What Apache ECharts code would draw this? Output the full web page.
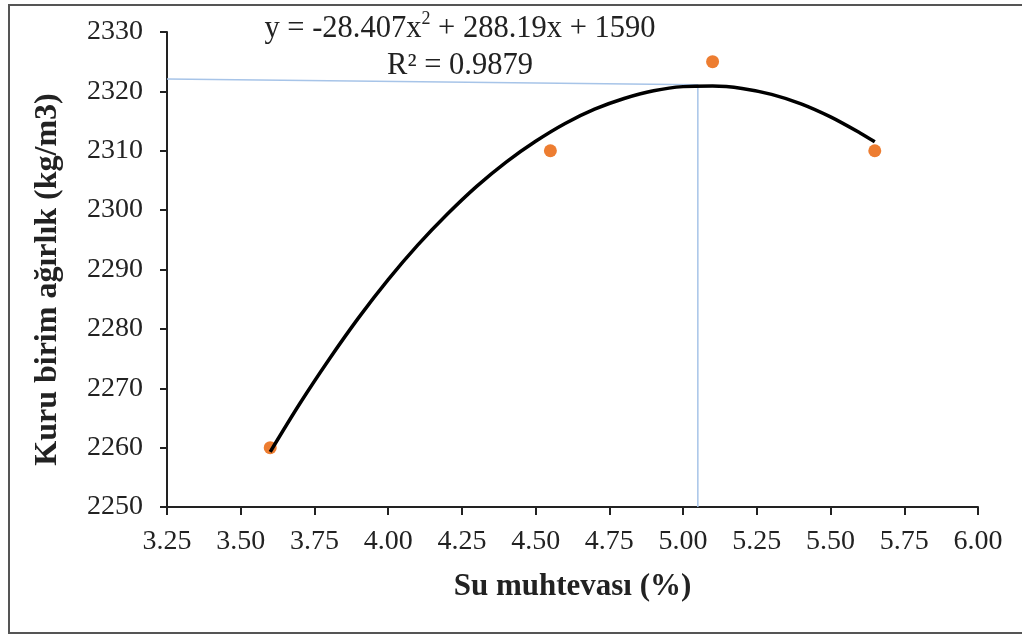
<!DOCTYPE html>
<html>
<head>
<meta charset="utf-8">
<script src="https://cdn.jsdelivr.net/npm/echarts@6/dist/echarts.min.js"></script>
<style>
html,body{margin:0;padding:0;background:#fff;}
#chart{width:1022px;height:635px;}
</style>
</head>
<body>
<div id="chart"></div>
<script>
// Measured points
var waterContent = [3.6, 4.55, 5.1, 5.65];
var dryDensity = [2260, 2310, 2325, 2310];
// Polynomial trendline
var trendX = [3.6, 3.7, 3.8, 3.9, 4.0, 4.1, 4.2, 4.3, 4.4, 4.5, 4.6, 4.7, 4.8, 4.9, 5.0, 5.1, 5.2, 5.3, 5.4, 5.5, 5.6, 5.65];
var trendY = [2259.3, 2267.4, 2274.9, 2281.9, 2288.3, 2294.1, 2299.3, 2304.0, 2308.1, 2311.6, 2314.6, 2317.0, 2318.8, 2320.1, 2320.8, 2320.9, 2320.5, 2319.5, 2317.9, 2315.7, 2313.0, 2311.5];
// Optimum guide lines (blue)
var guideX = [3.25, 5.05, 5.05];
var guideY = [2322.1, 2321.1, 2250];
// Labels
var xTitle = 'Su muhtevası (%)';
var yTitle = 'Kuru birim ağırlık (kg/m3)';
var eqLine1 = ['y = -28.407x', '2', ' + 288.19x + 1590'];
var eqLine2 = 'R² = 0.9879';

function pairs(xs, ys){ return xs.map(function(x,i){ return [x, ys[i]]; }); }

var serif = '"Liberation Serif", "DejaVu Serif", serif';
var chart = echarts.init(document.getElementById('chart'));
chart.setOption({
  animation: false,
  backgroundColor: '#fff',
  grid: {left: 167, right: 44, top: 32, bottom: 128},
  title: {
    text: '{a|' + eqLine1[0] + '}{s|' + eqLine1[1] + '}{a|' + eqLine1[2] + '}\n{a|' + eqLine2 + '}',
    left: 455, top: 5, textAlign: 'center',
    textStyle: {
      fontWeight: 'normal',
      rich: {
        a: {fontFamily: serif, fontSize: 30.5, fontWeight: 'normal', color: '#222', lineHeight: 37, align: 'center'},
        s: {fontFamily: serif, fontSize: 18, fontWeight: 'normal', color: '#222', verticalAlign: 'top', lineHeight: 37, padding: [0,0,12,0]}
      }
    }
  },
  xAxis: {
    type: 'value', min: 3.25, max: 6.0, interval: 0.25,
    name: xTitle, nameLocation: 'middle', nameGap: 64,
    nameTextStyle: {fontFamily: serif, fontSize: 31, fontWeight: 'bold', color: '#222'},
    axisLine: {show: true, lineStyle: {color: '#222', width: 2}},
    axisTick: {show: true, inside: false, length: 8, lineStyle: {color: '#222', width: 2}},
    axisLabel: {fontFamily: serif, fontSize: 28, color: '#222', margin: 21,
      formatter: function(v){ return v.toFixed(2); }},
    splitLine: {show: false}
  },
  yAxis: {
    type: 'value', min: 2250, max: 2330, interval: 10,
    name: yTitle, nameLocation: 'middle', nameGap: 103, nameRotate: 90,
    nameTextStyle: {fontFamily: serif, fontSize: 32, fontWeight: 'bold', color: '#222', padding: [0, 20, 0, 0]},
    axisLine: {show: true, lineStyle: {color: '#222', width: 2}},
    axisTick: {show: true, inside: false, length: 7, lineStyle: {color: '#222', width: 2}},
    axisLabel: {fontFamily: serif, fontSize: 28, color: '#222', margin: 24,
      formatter: function(v){ return String(v); }},
    splitLine: {show: false}
  },
  graphic: [{
    type: 'rect', shape: {x: 9, y: 5, width: 1030, height: 628},
    style: {fill: 'none', stroke: '#555', lineWidth: 2}, silent: true, z: 100
  }],
  series: [
    {
      type: 'line', data: pairs(guideX, guideY), symbol: 'none',
      lineStyle: {color: '#a7c4e8', width: 1.5}, z: 1
    },
    {
      type: 'line', data: pairs(trendX, trendY), symbol: 'none', smooth: 0.3,
      lineStyle: {color: '#000', width: 3.5}, z: 3
    },
    {
      type: 'scatter', data: pairs(waterContent, dryDensity), symbolSize: 13,
      itemStyle: {color: '#ED7D31', opacity: 1}, z: 2
    }
  ]
});
</script>
</body>
</html>
